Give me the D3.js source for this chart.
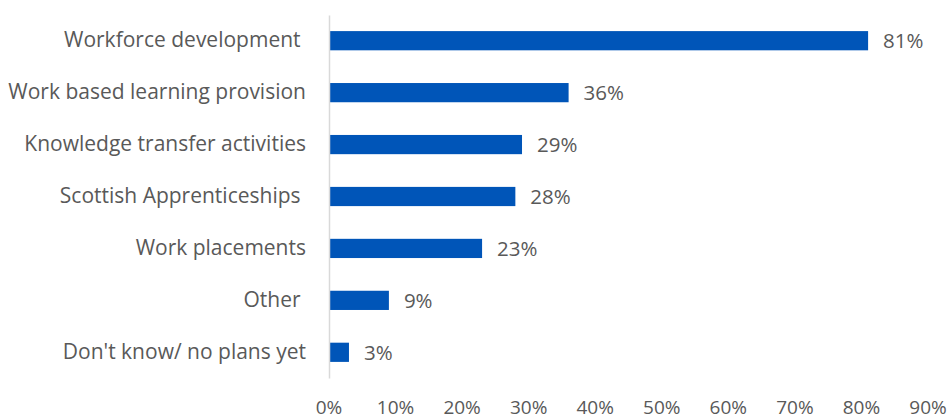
<!DOCTYPE html>
<html>
<head>
<meta charset="utf-8">
<script src="https://cdn.jsdelivr.net/npm/d3@7/dist/d3.min.js"></script>
<style>
  html, body { margin: 0; padding: 0; background: #fff; }
  svg { display: block; }
  text { font-family: "Open Sans", Lato, sans-serif; fill: #595959; }
</style>
</head>
<body>
<svg id="chart" width="949" height="420"></svg>
<script>
// Planned activities, share of respondents
const categories = [
  "Workforce development ",
  "Work based learning provision",
  "Knowledge transfer activities",
  "Scottish Apprenticeships ",
  "Work placements",
  "Other ",
  "Don't know/ no plans yet"
];
const values = [81, 36, 29, 28, 23, 9, 3];
const tickValues = [0, 10, 20, 30, 40, 50, 60, 70, 80, 90];

const svg = d3.select("#chart");
const margin = { left: 329, right: 21, top: 15, bottom: 42 };
const W = 949, H = 420;
const FONT = "'Open Sans', Lato, sans-serif";

const x = d3.scaleLinear().domain([0, 90]).range([margin.left, W - margin.right]);
const y = d3.scaleBand().domain(categories)
  .range([margin.top, H - margin.bottom]).paddingInner(0.63).paddingOuter(0.31);

// bars
svg.append("g").selectAll("rect").data(values).join("rect")
  .attr("x", x(0))
  .attr("y", (d, i) => y(categories[i]))
  .attr("width", d => x(d) - x(0))
  .attr("height", y.bandwidth())
  .attr("fill", "#0055b8");

// value labels
svg.append("g").selectAll("text").data(values).join("text")
  .attr("x", d => x(d) + 15)
  .attr("y", (d, i) => y(categories[i]) + y.bandwidth() / 2)
  .attr("dy", "0.36em")
  .attr("font-size", 20.5)
  .text(d => d + "%");

// category axis
const yAxis = svg.append("g").attr("transform", `translate(${x(0)},0)`)
  .call(d3.axisLeft(y).tickSize(0).tickPadding(23));
yAxis.select(".domain").attr("stroke", "#d9d9d9").attr("stroke-width", 1.5);
yAxis.selectAll("text").attr("font-size", 21).style("white-space", "pre")
  .attr("dy", "0.3em")
  .attr("fill", "#595959").attr("font-family", FONT);

// value axis labels
svg.append("g").selectAll("text").data(tickValues).join("text")
  .attr("x", d => x(d))
  .attr("y", 414)
  .attr("text-anchor", "middle")
  .attr("font-size", 19)
  .text(d => d + "%");
</script>
</body>
</html>
